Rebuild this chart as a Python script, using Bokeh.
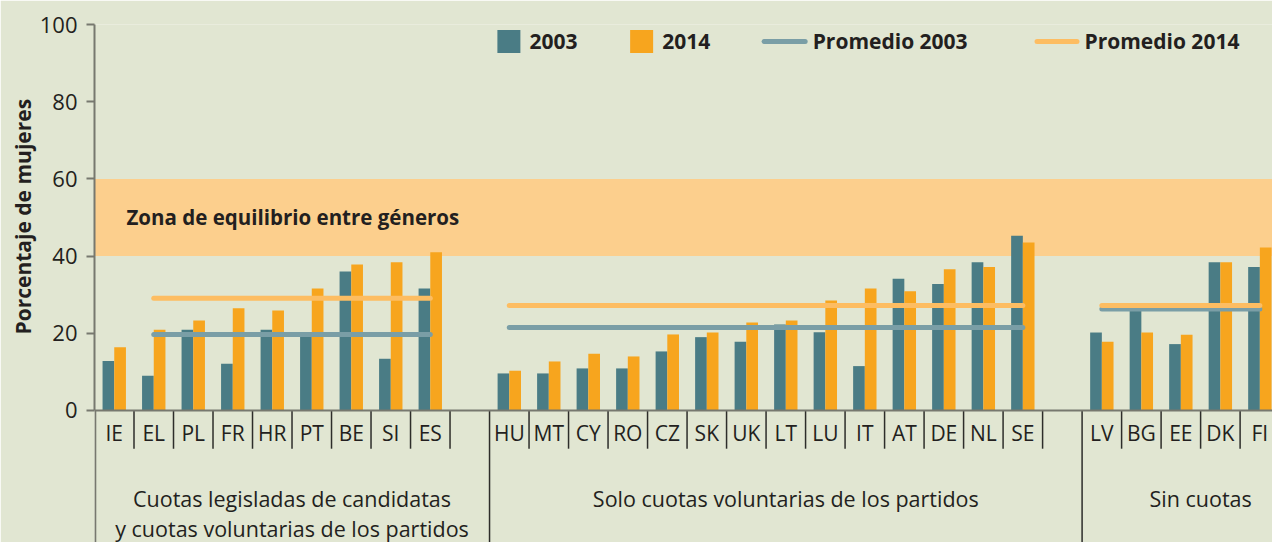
from bokeh.plotting import figure
from bokeh.models import Range1d, FixedTicker, BoxAnnotation, Span, Title
from bokeh.embed import file_html
from bokeh.resources import INLINE
from bokeh.core.properties import value

# ---------------- data ----------------
group1 = ["IE", "EL", "PL", "FR", "HR", "PT", "BE", "SI", "ES"]
group1_2003 = [12.8, 9.0, 20.9, 12.1, 20.9, 19.5, 36.0, 13.4, 31.6]
group1_2014 = [16.4, 20.9, 23.3, 26.5, 25.9, 31.6, 37.8, 38.4, 41.0]

group2 = ["HU", "MT", "CY", "RO", "CZ", "SK", "UK", "LT", "LU", "IT", "AT", "DE", "NL", "SE"]
group2_2003 = [9.6, 9.6, 10.9, 10.9, 15.3, 19.0, 17.8, 22.3, 20.3, 11.5, 34.1, 32.8, 38.4, 45.3]
group2_2014 = [10.3, 12.7, 14.7, 14.0, 19.7, 20.2, 22.8, 23.3, 28.5, 31.6, 30.9, 36.6, 37.2, 43.5]

group3 = ["LV", "BG", "EE", "DK", "FI"]
group3_2003 = [20.2, 26.3, 17.2, 38.4, 37.2]
group3_2014 = [17.8, 20.2, 19.6, 38.4, 42.2]

avg_2003 = [19.7, 21.5, 26.3]
avg_2014 = [29.1, 27.2, 27.2]
avg_span = [("EL", "ES"), ("HU", "SE"), ("LV", "FI")]

group_titles = [
    ["Cuotas legisladas de candidatas", "y cuotas voluntarias de los partidos"],
    ["Solo cuotas voluntarias de los partidos"],
    ["Sin cuotas"],
]
series_names = ["2003", "2014", "Promedio 2003", "Promedio 2014"]
y_ticks = [0, 20, 40, 60, 80, 100]
band = (40, 60)
band_label = "Zona de equilibrio entre géneros"
y_title = "Porcentaje de mujeres"

# ---------------- styling ----------------
BG = "#e1e6d2"
TEAL = "#4a7c85"
ORANGE = "#f7a51e"
BAND = "#fccf8d"
AVG03 = "#7a9ea6"
AVG14 = "#fdbd62"
TXT = "#231f20"
AXIS = "#77786f"
SEP = "#2d2d2a"
FONT = "Open Sans"

groups = [(group1, group1_2003, group1_2014),
          (group2, group2_2003, group2_2014),
          (group3, group3_2003, group3_2014)]

# slot index of each category (one empty slot after each group)
slots = {}
group_starts = []
group_ends = []
pos = 0
for cats, _, _ in groups:
    group_starts.append(pos)
    for c in cats:
        slots[c] = pos
        pos += 1
    pos += 1
    group_ends.append(pos)

W, H = 1272, 542
p = figure(width=W, height=H, output_backend="svg", toolbar_location=None,
           x_range=Range1d(0, 29.82), y_range=Range1d(-34.2, 100),
           x_axis_location=None, min_border_left=94, min_border_right=0,
           min_border_top=24, min_border_bottom=0)
p.background_fill_color = BG
p.border_fill_color = BG
p.outline_line_color = None
p.xgrid.visible = False
p.ygrid.visible = False

# y axis
ax = p.yaxis[0]
ax.ticker = FixedTicker(ticks=y_ticks)
ax.bounds = (0, 100)
ax.axis_line_color = AXIS
ax.axis_line_width = 2
ax.major_tick_line_color = AXIS
ax.major_tick_line_width = 2
ax.major_tick_out = 8
ax.major_tick_in = 0
ax.minor_tick_line_color = None
ax.major_label_text_font = FONT
ax.major_label_text_font_size = "22px"
ax.major_label_text_color = TXT
ax.major_label_standoff = 9

# y axis title, placed alongside the 0-100 scale
p.add_layout(Title(text=y_title, align="left", offset=208, text_font=FONT,
                   text_font_style="bold", text_font_size="21px",
                   text_color=TXT, standoff=0), "left")

# gender-balance band
p.add_layout(BoxAnnotation(bottom=band[0], top=band[1], fill_color=BAND,
                           fill_alpha=1.0, line_color=None, level="underlay"))
p.text(x=[0.81], y=[(band[0] + band[1]) / 2], text=[band_label],
       text_font=value(FONT), text_font_style="bold", text_font_size="20.5px",
       text_color=TXT, text_align="left", text_baseline="middle")

# bars
BW = 0.296
xs03, xs14, v03, v14 = [], [], [], []
for cats, a, b in groups:
    for c, va, vb in zip(cats, a, b):
        xs03.append(slots[c] + 0.5 - BW / 2)
        xs14.append(slots[c] + 0.5 + BW / 2)
        v03.append(va)
        v14.append(vb)
p.vbar(x=xs03, top=v03, bottom=0, width=BW, fill_color=TEAL, line_color=None)
p.vbar(x=xs14, top=v14, bottom=0, width=BW, fill_color=ORANGE, line_color=None)

# x baseline
p.add_layout(Span(location=0, dimension="width", line_color=AXIS, line_width=2))

# averages
for (c0, c1), a03 in zip(avg_span, avg_2003):
    x0, x1 = slots[c0] + 0.5, slots[c1] + 0.5
    p.line([x0, x1], [a03, a03], line_color=AVG03, line_width=5, line_cap="round")
for (c0, c1), a14 in zip(avg_span, avg_2014):
    x0, x1 = slots[c0] + 0.5, slots[c1] + 0.5
    p.line([x0, x1], [a14, a14], line_color=AVG14, line_width=5, line_cap="round")

# category labels & separators
cat_x = [slots[c] + 0.5 for cats, _, _ in groups for c in cats]
cat_t = [c for cats, _, _ in groups for c in cats]
p.text(x=cat_x, y=[-5.8] * len(cat_x), text=cat_t, text_font=value(FONT),
       text_font_size="21px", text_color=TXT, text_align="center",
       text_baseline="middle")
short = [slots[c] + 1 for c in cat_t]
p.segment(x0=short, y0=[0] * len(short), x1=short, y1=[-9.9] * len(short),
          line_color=SEP, line_width=1.5)
long_x = group_starts[1:]
p.segment(x0=long_x, y0=[0] * len(long_x), x1=long_x, y1=[-34.2] * len(long_x),
          line_color=SEP, line_width=1.5)
p.segment(x0=[0.02], y0=[0], x1=[0.02], y1=[-34.2], line_color=AXIS, line_width=2)

# group titles
gx, gy, gt = [], [], []
for s, e, lines in zip(group_starts, group_ends, group_titles):
    for k, t in enumerate(lines):
        gx.append((s + e) / 2)
        gy.append(-22.7 - 7.8 * k)
        gt.append(t)
p.text(x=gx, y=gy, text=gt, text_font=value(FONT), text_font_size="21.5px",
       text_color=TXT, text_align="center", text_baseline="middle")

# legend (drawn manually)
LY = 95.6
p.rect(x=[10.49, 13.85], y=[LY, LY], width=23, height=23, width_units="screen",
       height_units="screen", fill_color=[TEAL, ORANGE], line_color=None)
p.line([16.95, 17.99], [LY, LY], line_color=AVG03, line_width=5, line_cap="round")
p.line([23.86, 24.87], [LY, LY], line_color=AVG14, line_width=5, line_cap="round")
p.text(x=[11.01, 14.37, 18.18, 25.06], y=[LY] * 4, text=series_names,
       text_font=value(FONT), text_font_style="bold", text_font_size="21px",
       text_color=TXT, text_align="left", text_baseline="middle")

open("out.html", "w").write(file_html(p, INLINE))
